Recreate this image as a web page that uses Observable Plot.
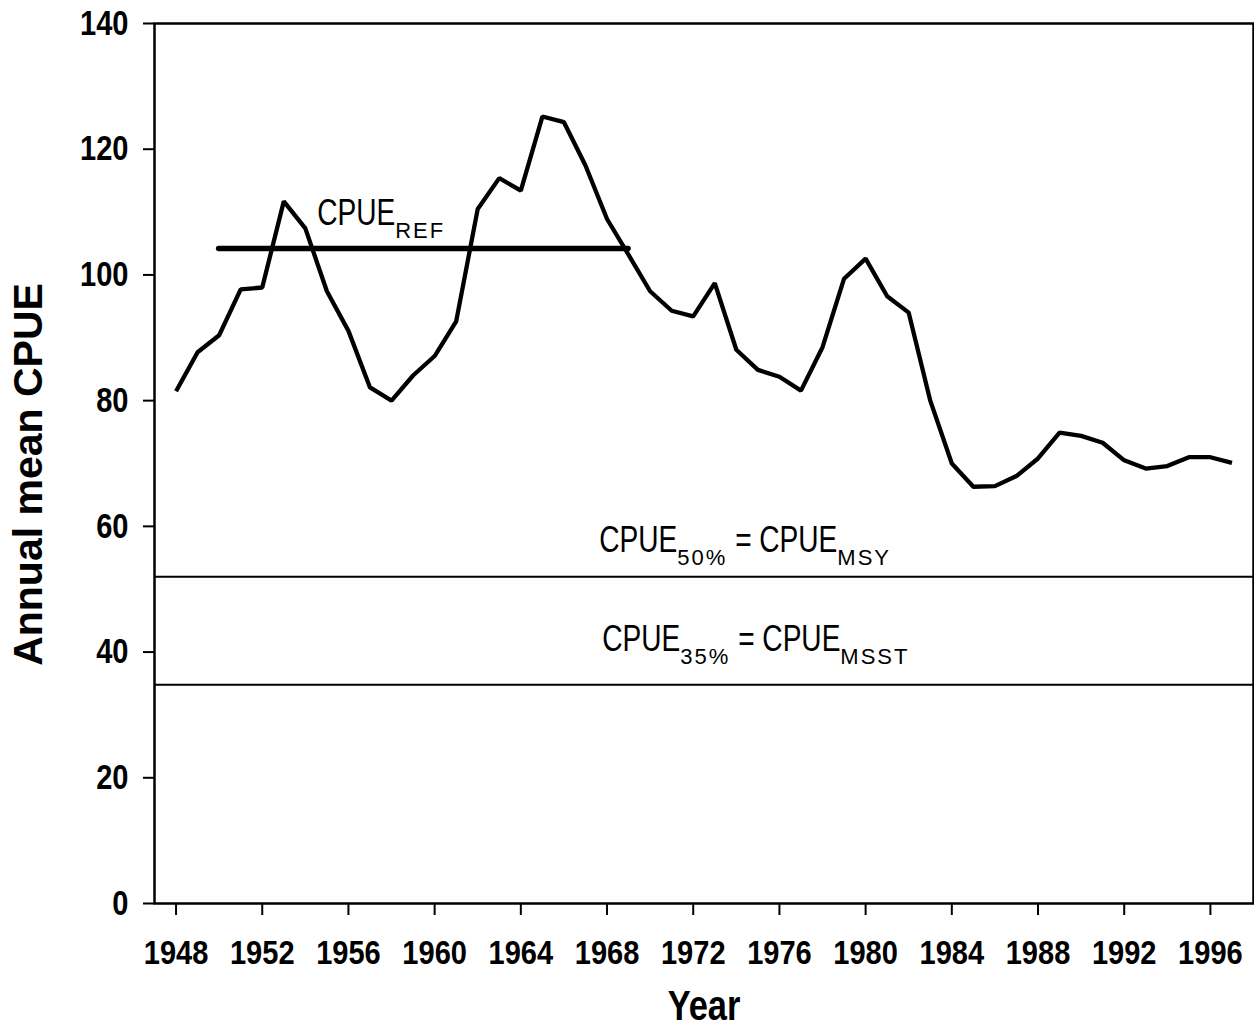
<!DOCTYPE html>
<html><head><meta charset="utf-8">
<script src="https://cdn.jsdelivr.net/npm/d3@7"></script>
<script src="https://cdn.jsdelivr.net/npm/@observablehq/plot@0.6"></script>
<style>
body{margin:0;background:#fff;}
#chart svg{background:#fff;color:#000;}
g[aria-label="x-axis tick label"] text{font-family:"Liberation Sans",Arial,sans-serif;font-weight:bold;font-size:33px;}
g[aria-label="y-axis tick label"] text{font-family:"Liberation Sans",Arial,sans-serif;font-weight:bold;font-size:35px;}
</style></head><body><div id="chart"></div>
<script>
// Data
const years = d3.range(1948, 1998);
const cpue = [81.5, 87.7, 90.4, 97.7, 98.0, 111.7, 107.4, 97.4, 91.1, 82.1,
              80.0, 84.0, 87.1, 92.6, 110.5, 115.4, 113.4, 125.2, 124.3, 117.4,
              108.9, 103.2, 97.4, 94.3, 93.4, 98.7, 88.1, 84.9, 83.8, 81.6,
              88.5, 99.4, 102.6, 96.6, 94.0, 80.0, 70.0, 66.3, 66.4, 68.0,
              70.8, 74.9, 74.4, 73.3, 70.5, 69.2, 69.6, 71.0, 71.0, 70.1];
const xTicks = d3.range(1948, 1997, 4);
const yTicks = d3.range(0, 141, 20);
const refStart = [1950], refEnd = [1969], refValue = [104.2];
const thresholdValues = [52, 34.8];
const labelText = ["CPUE_{REF}", "CPUE_{50%} = CPUE_{MSY}", "CPUE_{35%} = CPUE_{MSST}"];
const labelYear = [1954.55, 1967.64, 1967.78];
const labelValue = [107.9, 56.0, 40.2];

const series = years.map((y, i) => ({year: y, cpue: cpue[i]}));
const refSeg = refStart.map((s, i) => ({x1: s, x2: refEnd[i], y: refValue[i]}));
const labels = labelText.map((t, i) => ({text: t, x: labelYear[i], y: labelValue[i]}));

const chart = Plot.plot({
  width: 1254,
  height: 1028,
  marginLeft: 154,
  marginRight: 1,
  marginTop: 23,
  marginBottom: 125,
  x: {domain: [1947, 1998]},
  y: {domain: [0, 140]},
  style: {fontFamily: "'Liberation Sans', Arial, sans-serif", color: "#000", background: "#fff"},
  marks: [
    Plot.ruleY(thresholdValues, {strokeWidth: 2}),
    Plot.line(series, {x: "year", y: "cpue", strokeWidth: 4.3, strokeLinejoin: "miter", strokeLinecap: "butt"}),
    Plot.ruleY(refSeg, {x1: "x1", x2: "x2", y: "y", strokeWidth: 5.5, strokeLinecap: "round"}),
    Plot.text(labels, {x: "x", y: "y", text: "text", textAnchor: "start", lineAnchor: "bottom", fontSize: 36}),
    Plot.frame({strokeWidth: 2.5}),
    Plot.axisY(yTicks, {tickSize: 11, tickPadding: 15, strokeWidth: 2, label: null}),
    Plot.axisX(xTicks, {tickSize: 12, tickPadding: 25, strokeWidth: 2, tickFormat: d => String(d), label: null}),
    Plot.text(["Year"], {frameAnchor: "bottom", dy: 116, lineAnchor: "bottom", fontSize: 42, fontWeight: "bold"}),
    Plot.text(["Annual mean CPUE"], {frameAnchor: "left", rotate: -90, dx: -142, dy: 11, lineAnchor: "top",
      textAnchor: "middle", fontSize: 41, fontWeight: "bold"})
  ]
});

document.getElementById("chart").appendChild(chart);

// horizontally condense glyphs of a text element around its anchor (vertical offsets kept)
function squeeze(nodes, s) {
  nodes.each(function () {
    const t = d3.select(this);
    const x = parseFloat(t.attr("x")) || 0;
    const T = t.attr("transform") || "";
    t.attr("x", null).attr("transform", `${T} translate(${x},0) scale(${s},1)`);
  });
}
const root = d3.select(chart);
squeeze(root.selectAll('g[aria-label="x-axis tick label"] text'), 0.88);
squeeze(root.selectAll('g[aria-label="y-axis tick label"] text'), 0.83);
squeeze(root.selectAll("text").filter(function () { return this.textContent === "Year"; }), 0.82);

// turn "_{...}" into subscript tspans
root.selectAll("text").filter(function () { return this.textContent.includes("_{"); }).each(function () {
  const s = this.textContent;
  const sel = d3.select(this).style("white-space", "pre");
  sel.text(null);
  const re = /([^_]*)_\{([^}]*)\}/g;
  let m, shift = 0;
  while ((m = re.exec(s)) !== null) {
    const main = sel.append("tspan").attr("dy", shift ? -shift : null).text(m[1]);
    const len = main.node().getComputedTextLength();
    main.attr("textLength", len * 0.78).attr("lengthAdjust", "spacingAndGlyphs");
    sel.append("tspan").attr("font-size", 22).attr("dy", 13).attr("letter-spacing", 2).text(m[2]);
    shift = 13;
  }
});
</script></body></html>
